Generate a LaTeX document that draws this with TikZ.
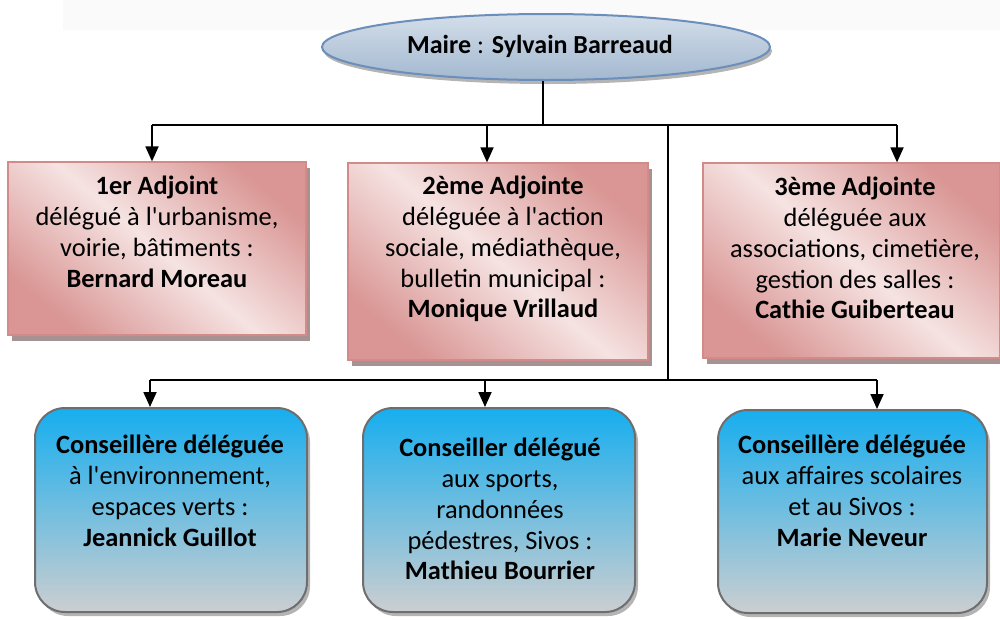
\documentclass[tikz,border=0pt]{standalone}
\usepackage{fontspec}
\setmainfont{Carlito}[Ligatures=TeXOff]
\usetikzlibrary{arrows.meta,shapes.geometric,shadows}
\definecolor{pinkd}{HTML}{D99694}
\definecolor{pinkl}{HTML}{F5E3E2}
\definecolor{pinkb}{HTML}{D38B89}
\definecolor{pshadow}{HTML}{A69292}
\definecolor{blueT}{HTML}{16AEEF}
\definecolor{grayB}{HTML}{CCCED0}
\definecolor{bborder}{HTML}{6E6E6E}
\definecolor{bshadow}{HTML}{B4B4B4}
\definecolor{ellT}{HTML}{D3DEEA}
\definecolor{ellB}{HTML}{A3B8CF}
\definecolor{ellborder}{HTML}{6C8EBA}
\definecolor{band}{HTML}{FAFAFA}
\tikzset{
  pinkbox/.style={draw=pinkb, line width=1.2pt, top color=pinkd, bottom color=pinkd, middle color=pinkl, shading angle=-40,
    drop shadow={shadow xshift=4pt, shadow yshift=-6pt, fill=pshadow, opacity=1}},
  bluebox/.style={draw=bborder, line width=2pt, rounded corners=30pt, top color=blueT, bottom color=grayB,
    drop shadow={shadow xshift=3pt, shadow yshift=-4pt, fill=bshadow, opacity=1}},
  txt/.style={font=\fontsize{26.4}{30.8}\selectfont, align=center, inner sep=0pt, anchor=north},
  conn/.style={line width=1.8pt, black},
  arr/.style={conn, -{Triangle[width=13pt,length=15pt]}},
}
\begin{document}
\begin{tikzpicture}[x=1pt,y=-1pt]
\useasboundingbox (0,0) rectangle (1000,619);
\fill[band] (63,0) rectangle (1000,30);

% mayor
\node[ellipse, draw=ellborder, line width=2pt, top color=ellT, bottom color=ellB,
  minimum width=448pt, minimum height=66pt,
  drop shadow={shadow xshift=2pt, shadow yshift=-4pt, fill=bshadow, opacity=1}] (maire) at (546,47) {};
\node[font=\fontsize{26}{30}\selectfont, anchor=base, inner sep=0pt] (mairetxt) at (540,53) {\textbf{Maire} : \textbf{Sylvain Barreaud}};

% adjoints
\node[pinkbox, minimum width=298pt, minimum height=173pt] (a1) at (157,248.5) {};
\node[pinkbox, minimum width=300pt, minimum height=197pt] (a2) at (498,261.5) {};
\node[pinkbox, minimum width=297pt, minimum height=195pt] (a3) at (851.5,260.5) {};

\node[txt] (t1) at (157,176) {\rule{0pt}{18pt}\textbf{1er Adjoint}\\délégué à l'urbanisme,\\voirie, bâtiments :\\\textbf{Bernard Moreau}};
\node[txt] (t2) at (503,176) {\rule{0pt}{18pt}\textbf{2ème Adjointe}\\déléguée à l'action\\sociale, médiathèque,\\bulletin municipal :\\\textbf{Monique Vrillaud}};
\node[txt] (t3) at (855,177) {\rule{0pt}{18pt}\textbf{3ème Adjointe}\\déléguée aux\\associations, cimetière,\\gestion des salles :\\\textbf{Cathie Guiberteau}};

% conseillers
\node[bluebox, minimum width=272pt, minimum height=204pt] (c1) at (171,510) {};
\node[bluebox, minimum width=272pt, minimum height=204pt] (c2) at (499,510) {};
\node[bluebox, minimum width=269pt, minimum height=203pt] (c3) at (852.5,511.5) {};

\node[txt] (t4) at (170,435) {\rule{0pt}{18pt}\textbf{Conseillère déléguée}\\à l'environnement,\\espaces verts :\\\textbf{Jeannick Guillot}};
\node[txt] (t5) at (500,438) {\rule{0pt}{18pt}\textbf{Conseiller délégué}\\aux sports,\\randonnées\\pédestres, Sivos :\\\textbf{Mathieu Bourrier}};
\node[txt] (t6) at (852,435) {\rule{0pt}{18pt}\textbf{Conseillère déléguée}\\aux affaires scolaires\\et au Sivos :\\\textbf{Marie Neveur}};

% connectors
\coordinate (j0) at (543,125);
\coordinate (h1) at (152,125);
\coordinate (h2) at (487,125);
\coordinate (h3) at (897,125);
\coordinate (v0) at (668,125);
\coordinate (j1) at (668,380);
\coordinate (g1) at (150,380);
\coordinate (g2) at (485,380);
\coordinate (g3) at (877,380);

\draw[conn] (maire.south -| j0) -- (j0);
\draw[conn] (h1) -- (h3);
\draw[arr] (h1) -- (h1 |- a1.north);
\draw[arr] (h2) -- (h2 |- a2.north);
\draw[arr] (h3) -- (h3 |- a3.north);
\draw[conn] (v0) -- (j1);
\draw[conn] (g1) -- (g3);
\draw[arr] (g1) -- (g1 |- c1.north);
\draw[arr] (g2) -- (g2 |- c2.north);
\draw[arr] (g3) -- (g3 |- c3.north);
\end{tikzpicture}
\end{document}
